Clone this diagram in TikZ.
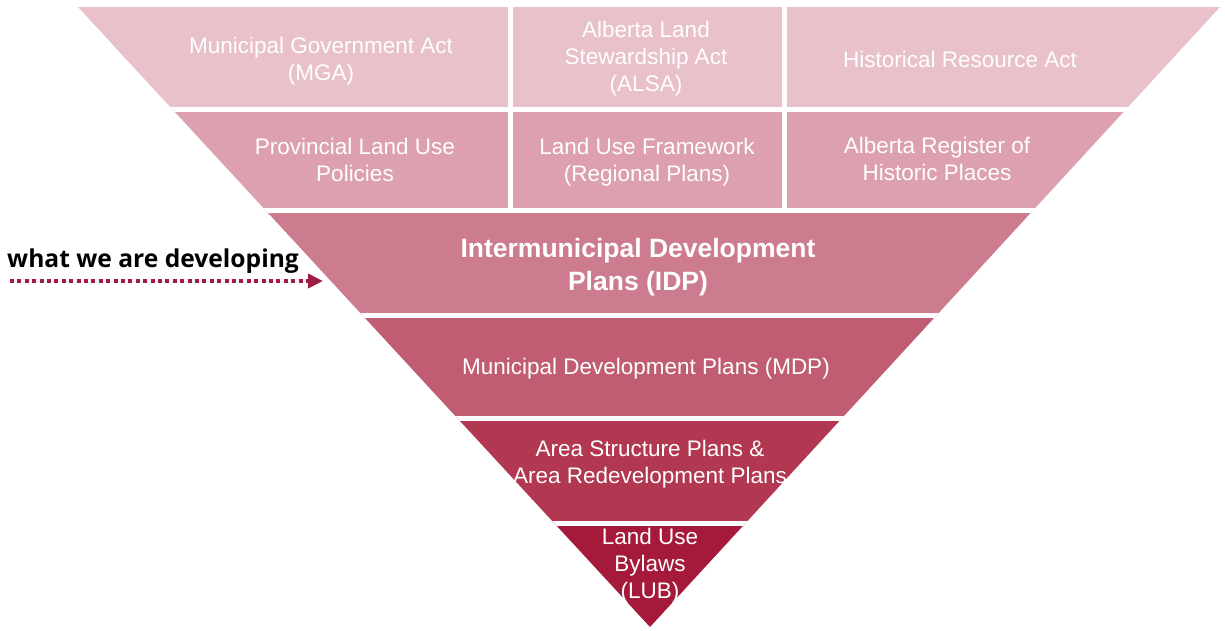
\documentclass[tikz,border=0pt]{standalone}
\usepackage{fontspec}
\setmainfont{Liberation Sans}
\newfontfamily\calloutfont{Open Sans}
\usetikzlibrary{arrows.meta, positioning}
\definecolor{bandA}{HTML}{E8C1CA}
\definecolor{bandB}{HTML}{DCA0AF}
\definecolor{bandC}{HTML}{CD7C8F}
\definecolor{bandD}{HTML}{C05D73}
\definecolor{bandE}{HTML}{B23751}
\definecolor{bandF}{HTML}{A5193B}
\definecolor{devred}{HTML}{A01E45}
\tikzset{
  bandtxt/.style={text=white, align=center, font=\fontsize{22.5}{27}\selectfont, inner sep=0pt},
  idptxt/.style={text=white, align=center, font=\fontsize{26.5}{33}\selectfont\bfseries, inner sep=0pt},
  devlbl/.style={font=\calloutfont\fontsize{24.6}{29}\selectfont\bfseries, text=black, inner sep=0pt},
  devarrow/.style={-{Triangle[length=15pt, width=14pt]}, line width=4pt, dash pattern=on 4pt off 3.4pt, draw=devred, fill=devred},
  gapline/.style={draw=white, line width=5pt},
}

\begin{document}
\begin{tikzpicture}[x=1pt, y=-1pt]
  \useasboundingbox[fill=white] (0,0) rectangle (1225,631);
  % funnel bands
  \begin{scope}
    \clip (78,7) -- (1220,7) -- (650,627) -- cycle;
    \fill[bandA] (0,7) rectangle (1225,110);
    \fill[bandB] (0,110) rectangle (1225,210.5);
    \fill[bandC] (0,210.5) rectangle (1225,315.5);
    \fill[bandD] (0,315.5) rectangle (1225,418.5);
    \fill[bandE] (0,418.5) rectangle (1225,523);
    \fill[bandF] (0,523) rectangle (1225,631);
    \foreach \y in {110,210.5,315.5,418.5,523}
      \draw[gapline] (0,\y) -- (1225,\y);
    \draw[gapline] (510.5,7) -- (510.5,210.5);
    \draw[gapline] (784.5,7) -- (784.5,210.5);
  \end{scope}
  % labels
  \node[bandtxt] (mga) at (321,61) {Municipal Government Act\\(MGA)};
  \node[bandtxt] (alsa) at (646,59) {Alberta Land\\Stewardship Act\\(ALSA)};
  \node[bandtxt] (hra) at (960,59) {Historical Resource Act};
  \node[bandtxt] (plup) at (355,160) {Provincial Land Use\\Policies};
  \node[bandtxt] (luf) at (647,162) {Land Use Framework\\(Regional Plans)};
  \node[bandtxt] (arhp) at (937,159) {Alberta Register of\\Historic Places};
  \node[idptxt] (idp) at (638,267) {Intermunicipal Development\\Plans (IDP)};
  \node[bandtxt] (mdp) at (646,369) {Municipal Development Plans (MDP)};
  \node[bandtxt] (asp) at (650,464) {Area Structure Plans \&\\Area Redevelopment Plans};
  \node[bandtxt] (lub) at (650,566) {Land Use\\Bylaws\\(LUB)};
  % callout
  \node[devlbl, anchor=base west] (dev) at (7,267) {what we are developing};
  \coordinate (devstart) at (10,281);
  \coordinate (devend) at (323,281);
  \draw[devarrow] (devstart) -- (devend);
\end{tikzpicture}
\end{document}
